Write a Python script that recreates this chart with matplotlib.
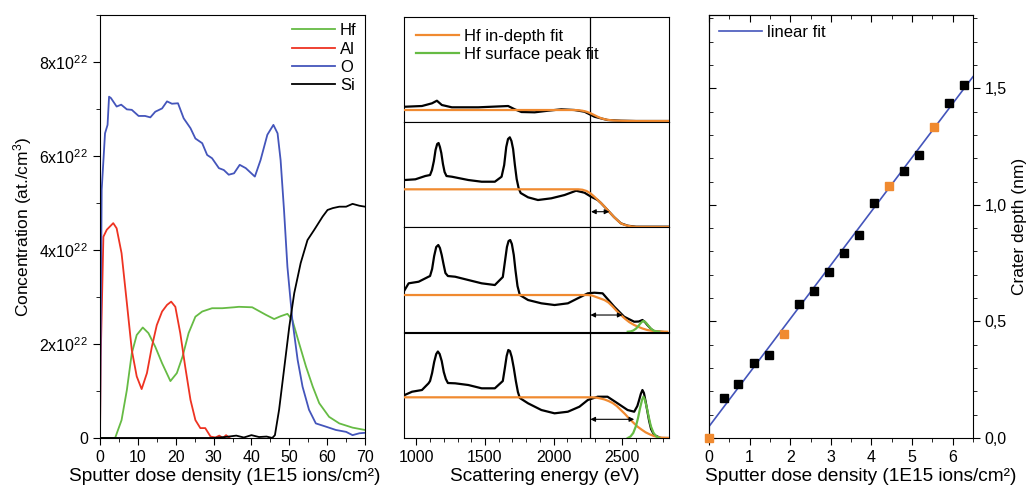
import matplotlib.pyplot as plt
import numpy as np
from matplotlib.ticker import MultipleLocator, FixedLocator

plt.rcParams['font.family'] = ['Liberation Sans', 'DejaVu Sans']
plt.rcParams['mathtext.default'] = 'regular'

GREEN = '#66bb44'
RED = '#ee3322'
BLUE = '#4455bb'
ORANGE = '#f08a30'

# ---- panel 1: depth profiles (units of 1e22 at./cm3)
o_x = [0, 0.45, 1.33, 2.0, 2.4, 2.9, 4.4, 5.6, 7.1, 8.4, 10.2, 11.9, 13.3, 14.6, 16.4, 17.7, 19.0,
       20.6, 22.1, 23.9, 25.2, 27.0, 28.3, 29.6, 31.4, 32.7, 34.0, 35.4, 36.9, 38.5, 40.9, 42.4,
       44.2, 45.8, 46.9, 47.7, 48.6, 49.5, 50.8, 52.2, 53.5, 55.2, 57.0, 59.7, 62.3, 65.0, 66.7,
       68.5, 70]
o_y = [0, 5.28, 6.48, 6.66, 7.26, 7.23, 7.05, 7.09, 6.99, 6.98, 6.85, 6.85, 6.82, 6.94, 7.01, 7.16,
       7.11, 7.12, 6.80, 6.59, 6.37, 6.27, 6.02, 5.95, 5.74, 5.70, 5.60, 5.63, 5.81, 5.74, 5.56, 5.91,
       6.45, 6.66, 6.48, 5.91, 4.85, 3.64, 2.51, 1.66, 1.09, 0.60, 0.31, 0.24, 0.17, 0.13, 0.06,
       0.10, 0.11]
si_x = [0, 30, 33, 36, 38, 40, 42, 44, 45.5, 46.2, 47.3, 48.6, 50.0, 51.3, 53.0, 54.8, 56.6, 58.8,
        60.1, 61.5, 63.2, 65.0, 66.7, 68.5, 70]
si_y = [0, 0, 0.02, 0.05, 0.01, 0.06, 0.02, 0.03, 0, 0.06, 0.60, 1.45, 2.37, 3.08, 3.72, 4.21, 4.43,
        4.71, 4.85, 4.89, 4.92, 4.92, 4.98, 4.94, 4.92]
hf_x = [0, 4.0, 5.7, 7.1, 8.4, 9.7, 11.3, 12.8, 14.6, 16.4, 18.6, 20.3, 21.8, 23.4, 25.2, 27.0,
        29.6, 32.3, 35.4, 36.7, 40.2, 43.8, 46.0, 47.7, 49.5, 50.8, 52.6, 54.4, 56.2, 57.9, 60.5,
        63.2, 66.7, 70]
hf_y = [0, 0, 0.38, 1.02, 1.80, 2.19, 2.35, 2.23, 1.94, 1.59, 1.21, 1.38, 1.73, 2.23, 2.58, 2.69,
        2.76, 2.76, 2.78, 2.79, 2.78, 2.62, 2.53, 2.59, 2.64, 2.51, 2.01, 1.52, 1.09, 0.74, 0.45,
        0.31, 0.22, 0.17]
al_x = [0, 0.2, 0.9, 1.8, 3.5, 4.4, 5.7, 7.1, 8.4, 9.7, 11.0, 12.4, 13.7, 15.0, 16.4, 17.7, 18.8,
        19.9, 21.2, 22.5, 23.9, 25.2, 26.5, 27.8, 29.2, 30.5, 31.5, 32.5, 33.3, 34.2]
al_y = [0, 1.73, 4.28, 4.43, 4.57, 4.46, 3.93, 2.87, 1.87, 1.31, 1.04, 1.38, 1.94, 2.40, 2.69,
        2.83, 2.90, 2.79, 2.23, 1.52, 0.81, 0.38, 0.21, 0.21, 0.03, 0.01, 0.05, 0.0, 0.06, 0.0]

# ---- panel 2: scattering spectra (arbitrary units), four sputter stages
spec_e = [
    [920, 1041, 1114, 1150, 1186, 1259, 1452, 1669, 1717, 1766, 1862, 1959, 2056, 2152, 2225, 2297,
     2393, 2490, 2600, 2700, 2840],
    [915, 993, 1065, 1100, 1114, 1128, 1140, 1152, 1162, 1172, 1182, 1194, 1206, 1220, 1259, 1379,
     1476, 1572, 1621, 1640, 1655, 1668, 1681, 1693, 1705, 1718, 1731, 1745, 1760, 1814, 1886,
     1983, 2080, 2164, 2225, 2273, 2321, 2345, 2393, 2440, 2490, 2540, 2600, 2700, 2840],
    [915, 944, 1017, 1089, 1100, 1115, 1130, 1145, 1160, 1172, 1185, 1198, 1212, 1230, 1283, 1379,
     1476, 1572, 1630, 1645, 1660, 1672, 1684, 1696, 1710, 1722, 1737, 1754, 1814, 1911, 2007,
     2104, 2176, 2249, 2297, 2357, 2442, 2514, 2587, 2620, 2647, 2665, 2683, 2710, 2732, 2800],
    [915, 969, 1041, 1089, 1100, 1115, 1130, 1145, 1157, 1170, 1185, 1200, 1215, 1230, 1283, 1379,
     1476, 1572, 1630, 1645, 1658, 1670, 1682, 1695, 1710, 1725, 1740, 1754, 1814, 1911, 2007,
     2104, 2188, 2249, 2321, 2393, 2466, 2539, 2587, 2610, 2623, 2635, 2647, 2658, 2671, 2684,
     2696, 2710, 2732, 2780, 2840],
]
spec_i = [
    [15.3, 16, 18.7, 21.3, 17, 14.7, 14.7, 16, 12.7, 10, 9.7, 11.3, 12.7, 12, 10.3, 5.3, 2, 1.3, 1,
     1, 1],
    [47, 47.7, 51, 52, 57, 66, 77, 83, 84, 80, 74, 63, 55, 51, 50.3, 47, 45.3, 45.3, 50.3, 62, 80,
     88, 89.7, 86, 78, 62, 48, 39, 34, 29.7, 27, 28.7, 32, 36.3, 34.3, 30.3, 27, 24, 17, 10, 3.7,
     1.3, 0.3, 0.3, 0.3],
    [42, 48.7, 50.3, 55.3, 56, 63, 76, 85, 87, 84, 77, 68, 59, 56, 55.3, 52, 48.7, 47, 55, 70, 85,
     91, 92, 88, 77, 62, 46, 37, 32, 28.7, 27, 28.7, 33.7, 38.7, 39.3, 38.7, 25.3, 15.3, 10.3, 10.5,
     12, 10, 7, 3, 0.8, 0],
    [43, 46.3, 48, 54.7, 57, 65, 76, 84, 86.5, 84, 77, 66, 59, 55, 54.7, 53, 49.7, 49.7, 57, 70,
     82, 88, 87, 81, 70, 57, 46, 40, 34.7, 28, 24.7, 26.3, 31.3, 38, 41.3, 41.3, 34.7, 28, 26.3,
     32, 38, 44, 48, 45, 36, 26, 17, 9, 3, 0, 0],
]
fit_e = [
    [910, 2150, 2180, 2210, 2240, 2270, 2300, 2325, 2350, 2380, 2410, 2442, 2500, 2600, 2840],
    [910, 2180, 2210, 2240, 2270, 2297, 2320, 2345, 2370, 2393, 2420, 2440, 2465, 2490, 2515, 2540,
     2565, 2600, 2840],
    [910, 2250, 2280, 2310, 2340, 2370, 2400, 2430, 2460, 2490, 2520, 2550, 2587, 2620, 2650, 2683,
     2720, 2760, 2828],
    [910, 2280, 2310, 2340, 2370, 2400, 2430, 2460, 2490, 2520, 2550, 2580, 2610, 2640, 2670, 2700,
     2730, 2760, 2790, 2840],
]
fit_i = [
    [12, 12, 11.8, 11.3, 10.3, 8.7, 6.7, 5, 3.6, 2.5, 1.9, 1.5, 1.2, 1, 1],
    [37.7, 37.7, 37.3, 36, 33.5, 30.3, 27.3, 24, 20.5, 17, 13, 10, 6.7, 3.7, 2.2, 1.3, 0.6, 0.1, 0],
    [37, 37, 36.5, 35, 33.5, 32, 29.5, 25.5, 21, 17, 13.3, 10, 7, 5, 3.4, 2, 1.1, 0.6, 0.3],
    [40.7, 40.7, 40.4, 39.6, 38.6, 37, 35, 32, 28, 24, 19.5, 15.5, 11.5, 8.5, 5.7, 3.7, 2, 0.9,
     0.3, 0],
]
peak_e = [None, None,
          [2540, 2560, 2580, 2600, 2615, 2630, 2645, 2654, 2663, 2678, 2693, 2708, 2728, 2750, 2770],
          [2540, 2560, 2580, 2600, 2615, 2630, 2645, 2654, 2663, 2678, 2693, 2708, 2728, 2750, 2770]]
peak_i = [None, None,
          [0.3, 0.6, 1.5, 3.4, 5.5, 8.2, 10.4, 11, 10.5, 8.5, 5.8, 3.4, 1.5, 0.6, 0.3],
          [0, 1.5, 5, 12, 20, 30, 38.5, 41.3, 39, 31, 21, 12, 5, 1.5, 0]]
arrow_e = [None, (2273, 2406), (2268, 2502), (2268, 2587)]
arrow_y = [None, 15.3, 17, 18.7]
edge_e = 2265

# ---- panel 3: crater depth vs dose
dose_black = [0.376, 0.72, 1.106, 1.474, 2.22, 2.58, 2.95, 3.32, 3.69, 4.06, 4.80, 5.17, 5.90, 6.27]
depth_black = [0.173, 0.23, 0.323, 0.355, 0.574, 0.631, 0.71, 0.795, 0.871, 1.007, 1.147, 1.216,
               1.439, 1.514]
dose_orange = [0, 1.843, 4.43, 5.53]
depth_orange = [0, 0.448, 1.082, 1.336]
fit_dose = [0, 6.5]
fit_depth = [0.049, 1.55]

fig = plt.figure(figsize=(10.35, 4.96), dpi=100)

# panel 1
ax1 = fig.add_axes([0.0966, 0.117, 0.2561, 0.853])
ax1.plot(hf_x, np.array(hf_y) * 1e22, color=GREEN, lw=1.3, label='Hf')
ax1.plot(al_x, np.array(al_y) * 1e22, color=RED, lw=1.3, label='Al')
ax1.plot(o_x, np.array(o_y) * 1e22, color=BLUE, lw=1.3, label='O')
ax1.plot(si_x, np.array(si_y) * 1e22, color='black', lw=1.3, label='Si')
ax1.set_xlim(0, 70)
ax1.set_ylim(0, 9e22)
ax1.xaxis.set_major_locator(MultipleLocator(10))
ax1.xaxis.set_minor_locator(MultipleLocator(5))
ax1.set_yticks([0, 2e22, 4e22, 6e22, 8e22])
ax1.set_yticklabels(['0', '2x10$^{22}$', '4x10$^{22}$', '6x10$^{22}$', '8x10$^{22}$'])
ax1.yaxis.set_minor_locator(MultipleLocator(1e22))
ax1.tick_params(which='both', direction='out', labelsize=11.5)
ax1.tick_params(which='major', length=5)
ax1.tick_params(which='minor', length=3)
ax1.set_xlabel('Sputter dose density (1E15 ions/cm²)', fontsize=13.7)
ax1.xaxis.set_label_coords(0.47, -0.07)
ax1.set_ylabel('Concentration (at./cm$^3$)', fontsize=12.5)
ax1.legend(loc='upper right', frameon=False, fontsize=12, handlelength=2.6,
           handletextpad=0.3, labelspacing=0.2, borderaxespad=0.1)

# panel 2
sub_bottoms = [0.754, 0.5423, 0.3306, 0.1169]
sub_h = 0.2117
axes2 = []
for k in range(4):
    ax = fig.add_axes([0.3903, sub_bottoms[k], 0.256, sub_h])
    axes2.append(ax)
    ax.plot(spec_e[k], spec_i[k], color='black', lw=1.6, zorder=2)
    ax.plot(fit_e[k], fit_i[k], color=ORANGE, lw=1.6, zorder=3, label='Hf in-depth fit')
    if peak_e[k] is not None:
        ax.plot(peak_e[k], peak_i[k], color=GREEN, lw=1.6, zorder=3)
    if arrow_e[k] is not None:
        ax.annotate('', xy=(arrow_e[k][0], arrow_y[k]), xytext=(arrow_e[k][1], arrow_y[k]),
                    arrowprops=dict(arrowstyle='<|-|>', color='black', lw=0.8,
                                    mutation_scale=7, shrinkA=0, shrinkB=0))
    ax.axvline(edge_e, color='black', lw=0.9, zorder=1)
    ax.set_xlim(910, 2840)
    ax.set_ylim(0, 105)
    ax.set_yticks([])
    ax.xaxis.set_major_locator(MultipleLocator(500))
    ax.xaxis.set_minor_locator(MultipleLocator(100))
    ax.tick_params(which='both', direction='out', labelsize=11.5)
    ax.tick_params(which='major', length=5)
    ax.tick_params(which='minor', length=3)
    if k < 3:
        ax.tick_params(labelbottom=False)
axes2[0].plot([], [], color=GREEN, lw=1.6, label='Hf surface peak fit')
axes2[0].legend(loc='upper left', frameon=False, fontsize=12, handlelength=2.6,
                handletextpad=0.3, labelspacing=0.2, borderaxespad=0.3)
axes2[3].set_xlabel('Scattering energy (eV)', fontsize=13.7)
axes2[3].xaxis.set_label_coords(0.53, -0.29)

# panel 3
ax3 = fig.add_axes([0.685, 0.117, 0.2551, 0.853])
ax3.plot(fit_dose, fit_depth, color=BLUE, lw=1.2, label='linear fit', zorder=2)
ax3.plot(dose_black, depth_black, 's', color='black', ms=6, zorder=3)
ax3.plot(dose_orange, depth_orange, 's', color=ORANGE, ms=6, zorder=3, clip_on=False)
ax3.set_xlim(0, 6.5)
ax3.set_ylim(0, 1.815)
ax3.xaxis.set_major_locator(MultipleLocator(1))
ax3.xaxis.set_minor_locator(MultipleLocator(0.5))
ax3.yaxis.set_major_locator(FixedLocator([0, 0.5, 1.0, 1.5]))
ax3.yaxis.set_minor_locator(MultipleLocator(0.1))
ax3.yaxis.tick_right()
ax3.yaxis.set_label_position('right')
ax3.set_yticklabels(['0,0', '0,5', '1,0', '1,5'])
ax3.tick_params(which='both', direction='out', labelsize=11.5, left=False, top=False)
ax3.tick_params(which='major', length=5)
ax3.tick_params(which='minor', length=3)
ax3.set_xlabel('Sputter dose density (1E15 ions/cm²)', fontsize=13.7)
ax3.xaxis.set_label_coords(0.575, -0.07)
ax3.set_ylabel('Crater depth (nm)', fontsize=12.5)
ax3.legend(loc='upper left', frameon=False, fontsize=12, handlelength=2.6,
           handletextpad=0.3, borderaxespad=0.2)

# mirrored inward ticks on top and left, without labels
top = ax3.secondary_xaxis('top')
top.xaxis.set_major_locator(MultipleLocator(1))
top.xaxis.set_minor_locator(MultipleLocator(0.5))
top.tick_params(which='both', direction='in', labeltop=False)
top.tick_params(which='major', length=5)
top.tick_params(which='minor', length=3)
left = ax3.secondary_yaxis('left')
left.yaxis.set_major_locator(FixedLocator([0, 0.5, 1.0, 1.5]))
left.yaxis.set_minor_locator(MultipleLocator(0.1))
left.tick_params(which='both', direction='in', labelleft=False)
left.tick_params(which='major', length=5)
left.tick_params(which='minor', length=3)

fig.savefig('out.png', dpi=100)
